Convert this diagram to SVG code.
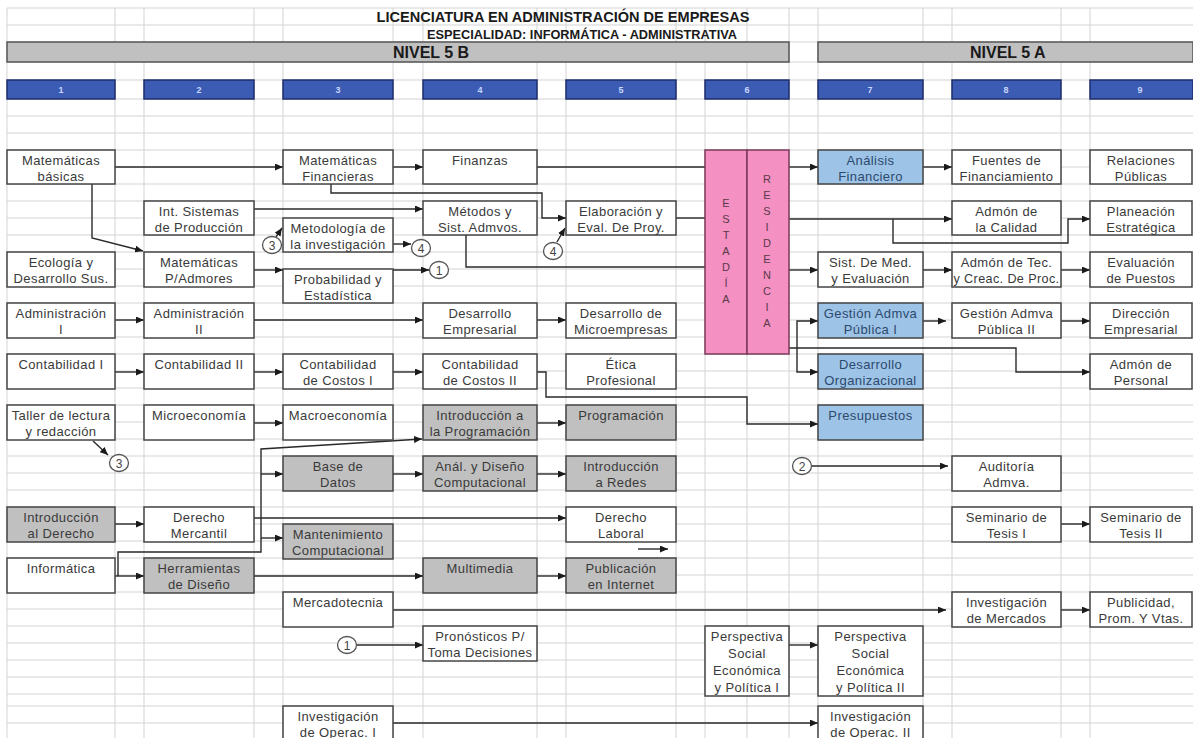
<svg xmlns="http://www.w3.org/2000/svg" width="1193" height="738" viewBox="0 0 1193 738">
<style>
.grid{stroke:#d3d3d3;stroke-width:1;fill:none}
.bar{fill:#c0c0c0;stroke:#555;stroke-width:1.5}
.hdr{fill:#3c5cb4;stroke:#1c2c6c;stroke-width:1.5}
.hn{font-family:"Liberation Sans",Arial,sans-serif;font-size:9px;font-weight:bold;fill:#c8d6ff;text-anchor:middle}
.ttl{font-family:"Liberation Sans",Arial,sans-serif;font-weight:bold;fill:#1a1a1a}
.w{fill:#fff;stroke:#444;stroke-width:1.5}
.g{fill:#c0c0c0;stroke:#444;stroke-width:1.5}
.b{fill:#9dc3e6;stroke:#444;stroke-width:1.5}
.p{fill:#f490c2;stroke:#7a3a5a;stroke-width:1.5}
.t{font-family:"Liberation Sans",Arial,sans-serif;font-size:13px;letter-spacing:0.4px;fill:#3a3a3a;text-anchor:middle}
.tb{font-family:"Liberation Sans",Arial,sans-serif;font-size:13px;letter-spacing:0.4px;fill:#2d4a6e;text-anchor:middle}
.v{font-family:"Liberation Sans",Arial,sans-serif;font-size:11px;fill:#5a3a4a;text-anchor:middle}
.c{stroke:#2a2a2a;stroke-width:1.4;fill:none}
.a{marker-end:url(#ah)}
.cir{fill:#fff;stroke:#555;stroke-width:1.3}
.ct{font-family:"Liberation Sans",Arial,sans-serif;font-size:12px;fill:#444;text-anchor:middle}
</style>
<defs>
<marker id="ah" markerWidth="8" markerHeight="7" refX="8" refY="3.5" orient="auto" markerUnits="userSpaceOnUse">
<path d="M0,0 L8,3.5 L0,7 z" fill="#1a1a1a"/>
</marker>
</defs>
<rect x="0" y="0" width="1193" height="738" fill="#fff"/>
<path class="grid" d="M7,8V738M115,8V738M144,8V738M254,8V738M283,8V738M393,8V738M423,8V738M537,8V738M566,8V738M676,8V738M705,8V738M747,8V738M789,8V738M818,8V738M923,8V738M952,8V738M1061,8V738M1090,8V738
M7,8H1193M7,25H1193M7,42H1193M7,62H1193M7,80H1193M7,99H1193M7,116H1193M7,133H1193
M7,150H1193M7,167H1193M7,184H1193M7,201H1193M7,218H1193M7,235H1193M7,252H1193M7,269H1193M7,286H1193M7,303H1193M7,320H1193M7,337H1193M7,354H1193M7,371H1193M7,388H1193M7,405H1193M7,422H1193M7,439H1193M7,456H1193M7,473H1193M7,490H1193M7,507H1193M7,524H1193M7,541H1193M7,558H1193M7,575H1193M7,592H1193M7,609H1193M7,626H1193M7,643H1193M7,660H1193M7,677H1193M7,694H1193M7,706H1193M7,723H1193"/>
<g id="title">
<text class="ttl" x="563" y="22" font-size="14" text-anchor="middle" textLength="373" lengthAdjust="spacingAndGlyphs">LICENCIATURA EN ADMINISTRACIÓN DE EMPRESAS</text>
<text class="ttl" x="582" y="38.5" font-size="12" text-anchor="middle" textLength="310" lengthAdjust="spacingAndGlyphs">ESPECIALIDAD: INFORMÁTICA - ADMINISTRATIVA</text>
</g>
<g id="level-5b">
<rect class="bar" x="7" y="42" width="782" height="20"/>
<text class="ttl" x="393" y="58" font-size="16">NIVEL 5 B</text>
</g>
<g id="level-5a">
<rect class="bar" x="818" y="42" width="375" height="20"/>
<text class="ttl" x="970" y="58" font-size="16">NIVEL 5 A</text>
</g>
<g id="col-headers">
<rect class="hdr" x="7" y="80" width="108" height="19"/><text class="hn" x="61" y="93">1</text>
<rect class="hdr" x="144" y="80" width="110" height="19"/><text class="hn" x="199" y="93">2</text>
<rect class="hdr" x="283" y="80" width="110" height="19"/><text class="hn" x="338" y="93">3</text>
<rect class="hdr" x="423" y="80" width="114" height="19"/><text class="hn" x="480" y="93">4</text>
<rect class="hdr" x="566" y="80" width="110" height="19"/><text class="hn" x="621" y="93">5</text>
<rect class="hdr" x="705" y="80" width="84" height="19"/><text class="hn" x="747" y="93">6</text>
<rect class="hdr" x="818" y="80" width="105" height="19"/><text class="hn" x="870" y="93">7</text>
<rect class="hdr" x="952" y="80" width="109" height="19"/><text class="hn" x="1006" y="93">8</text>
<rect class="hdr" x="1090" y="80" width="103" height="19"/><text class="hn" x="1140" y="93">9</text>
</g>
<g id="connectors">
<path class="c a" d="M115,167H283"/>
<path class="c a" d="M92,184V238L143,251"/>
<path class="c a" d="M393,167H423"/>
<path class="c a" d="M331,184V193H542V218H566"/>
<path class="c" d="M537,167H705"/>
<path class="c a" d="M254,209H423"/>
<path class="c" d="M466,235V267H705"/>
<path class="c" d="M676,218H705"/>
<path class="c a" d="M789,167H818"/>
<path class="c a" d="M923,167H952"/>
<path class="c a" d="M789,219H952"/>
<path class="c a" d="M893,219V243H1068V219H1090"/>
<path class="c a" d="M789,270H818"/>
<path class="c a" d="M923,270H952"/>
<path class="c a" d="M1061,270H1090"/>
<path class="c a" d="M789,348H1016V372H1090"/>
<path class="c a" d="M797,348V321H818"/>
<path class="c a" d="M797,348V372H818"/>
<path class="c a" d="M923,321H946"/>
<path class="c a" d="M1061,321H1090"/>
<path class="c a" d="M537,372H546V397H747V424H818"/>
<path class="c a" d="M393,610H946"/>
<path class="c a" d="M1061,610H1090"/>
<path class="c a" d="M1061,524H1090"/>
<path class="c a" d="M789,645H818"/>
<path class="c a" d="M393,723H818"/>
<path class="c a" d="M115,320H144"/>
<path class="c a" d="M254,320H423"/>
<path class="c a" d="M537,320H566"/>
<path class="c a" d="M115,372H144"/>
<path class="c a" d="M254,372H283"/>
<path class="c a" d="M393,372H423"/>
<path class="c a" d="M254,423H283"/>
<path class="c a" d="M537,423H566"/>
<path class="c a" d="M393,474H423"/>
<path class="c a" d="M537,474H566"/>
<path class="c a" d="M254,270H283"/>
<path class="c a" d="M393,270H429"/>
<path class="c a" d="M393,244H411"/>
<path class="c a" d="M115,524H144"/>
<path class="c a" d="M254,518H566"/>
<path class="c a" d="M115,576H144"/>
<path class="c a" d="M118,576V552H261V449L422,439"/>
<path class="c a" d="M261,474H283"/>
<path class="c a" d="M261,538H283"/>
<path class="c a" d="M254,576H423"/>
<path class="c a" d="M537,576H566"/>
<path class="c a" d="M357,645H423"/>
<path class="c a" d="M812,466H948"/>
<path class="c a" d="M93,441L108,455"/>
<path class="c a" d="M276,237L282,228"/>
<path class="c a" d="M557,242L565,228"/>
<path class="c a" d="M638,549H668"/>
</g>
<g id="markers">
<g id="ref-3a"><ellipse class="cir" cx="272" cy="245" rx="9.5" ry="8.5"/><text class="ct" x="272" y="249.5">3</text></g>
<g id="ref-4a"><ellipse class="cir" cx="421" cy="248" rx="9.5" ry="8.5"/><text class="ct" x="421" y="252.5">4</text></g>
<g id="ref-1a"><ellipse class="cir" cx="439" cy="270" rx="9.5" ry="8.5"/><text class="ct" x="439" y="274.5">1</text></g>
<g id="ref-4b"><ellipse class="cir" cx="553" cy="251" rx="9.5" ry="8.5"/><text class="ct" x="553" y="255.5">4</text></g>
<g id="ref-3b"><ellipse class="cir" cx="119" cy="463" rx="9.5" ry="8.5"/><text class="ct" x="119" y="467.5">3</text></g>
<g id="ref-1b"><ellipse class="cir" cx="347" cy="645" rx="9.5" ry="8.5"/><text class="ct" x="347" y="649.5">1</text></g>
<g id="ref-2"><ellipse class="cir" cx="802" cy="466" rx="9.5" ry="8.5"/><text class="ct" x="802" y="470.5">2</text></g>
</g>
<g id="n-matematicas-basicas"><rect class="w" x="7" y="150" width="108" height="34"/><text class="t" x="61" y="164.5">Matemáticas</text><text class="t" x="61" y="181">básicas</text></g>
<g id="n-ecologia"><rect class="w" x="7" y="252" width="108" height="35"/><text class="t" x="61" y="266.5">Ecología y</text><text class="t" x="61" y="283">Desarrollo Sus.</text></g>
<g id="n-administracion-1"><rect class="w" x="7" y="303" width="108" height="35"/><text class="t" x="61" y="317.5">Administración</text><text class="t" x="61" y="334">I</text></g>
<g id="n-contabilidad-1"><rect class="w" x="7" y="354" width="108" height="35"/><text class="t" x="61" y="368.5">Contabilidad I</text></g>
<g id="n-taller"><rect class="w" x="7" y="405" width="108" height="35"/><text class="t" x="61" y="419.5">Taller de lectura</text><text class="t" x="61" y="436">y redacción</text></g>
<g id="n-intro-derecho"><rect class="g" x="7" y="507" width="108" height="35"/><text class="t" x="61" y="521.5">Introducción</text><text class="t" x="61" y="538">al Derecho</text></g>
<g id="n-informatica"><rect class="w" x="7" y="558" width="108" height="35"/><text class="t" x="61" y="572.5">Informática</text></g>
<g id="n-int-sistemas"><rect class="w" x="144" y="201" width="110" height="34"/><text class="t" x="199" y="215.5">Int. Sistemas</text><text class="t" x="199" y="232">de Producción</text></g>
<g id="n-mat-padmores"><rect class="w" x="144" y="252" width="110" height="35"/><text class="t" x="199" y="266.5">Matemáticas</text><text class="t" x="199" y="283">P/Admores</text></g>
<g id="n-administracion-2"><rect class="w" x="144" y="303" width="110" height="35"/><text class="t" x="199" y="317.5">Administración</text><text class="t" x="199" y="334">II</text></g>
<g id="n-contabilidad-2"><rect class="w" x="144" y="354" width="110" height="35"/><text class="t" x="199" y="368.5">Contabilidad II</text></g>
<g id="n-microeconomia"><rect class="w" x="144" y="405" width="110" height="35"/><text class="t" x="199" y="419.5">Microeconomía</text></g>
<g id="n-derecho-mercantil"><rect class="w" x="144" y="507" width="110" height="35"/><text class="t" x="199" y="521.5">Derecho</text><text class="t" x="199" y="538">Mercantil</text></g>
<g id="n-herramientas"><rect class="g" x="144" y="558" width="110" height="35"/><text class="t" x="199" y="572.5">Herramientas</text><text class="t" x="199" y="589">de Diseño</text></g>
<g id="n-mat-financieras"><rect class="w" x="283" y="150" width="110" height="34"/><text class="t" x="338" y="164.5">Matemáticas</text><text class="t" x="338" y="181">Financieras</text></g>
<g id="n-metodologia"><rect class="w" x="283" y="218" width="110" height="34"/><text class="t" x="338" y="232.5">Metodología de</text><text class="t" x="338" y="249">la investigación</text></g>
<g id="n-probabilidad"><rect class="w" x="283" y="269" width="110" height="34"/><text class="t" x="338" y="283.5">Probabilidad y</text><text class="t" x="338" y="300">Estadística</text></g>
<g id="n-costos-1"><rect class="w" x="283" y="354" width="110" height="35"/><text class="t" x="338" y="368.5">Contabilidad</text><text class="t" x="338" y="385">de Costos I</text></g>
<g id="n-macroeconomia"><rect class="w" x="283" y="405" width="110" height="35"/><text class="t" x="338" y="419.5">Macroeconomía</text></g>
<g id="n-base-datos"><rect class="g" x="283" y="456" width="110" height="35"/><text class="t" x="338" y="470.5">Base de</text><text class="t" x="338" y="487">Datos</text></g>
<g id="n-mantenimiento"><rect class="g" x="283" y="524" width="110" height="35"/><text class="t" x="338" y="538.5">Mantenimiento</text><text class="t" x="338" y="555">Computacional</text></g>
<g id="n-mercadotecnia"><rect class="w" x="283" y="592" width="110" height="35"/><text class="t" x="338" y="606.5">Mercadotecnia</text></g>
<g id="n-inv-operac-1"><rect class="w" x="283" y="706" width="110" height="35"/><text class="t" x="338" y="720.5">Investigación</text><text class="t" x="338" y="737">de Operac. I</text></g>
<g id="n-finanzas"><rect class="w" x="423" y="150" width="114" height="34"/><text class="t" x="480" y="164.5">Finanzas</text></g>
<g id="n-metodos"><rect class="w" x="423" y="201" width="114" height="34"/><text class="t" x="480" y="215.5">Métodos y</text><text class="t" x="480" y="232">Sist. Admvos.</text></g>
<g id="n-desarrollo-empresarial"><rect class="w" x="423" y="303" width="114" height="35"/><text class="t" x="480" y="317.5">Desarrollo</text><text class="t" x="480" y="334">Empresarial</text></g>
<g id="n-costos-2"><rect class="w" x="423" y="354" width="114" height="35"/><text class="t" x="480" y="368.5">Contabilidad</text><text class="t" x="480" y="385">de Costos II</text></g>
<g id="n-intro-programacion"><rect class="g" x="423" y="405" width="114" height="35"/><text class="t" x="480" y="419.5">Introducción a</text><text class="t" x="480" y="436">la Programación</text></g>
<g id="n-analisis-diseno"><rect class="g" x="423" y="456" width="114" height="35"/><text class="t" x="480" y="470.5">Anál. y Diseño</text><text class="t" x="480" y="487">Computacional</text></g>
<g id="n-multimedia"><rect class="g" x="423" y="558" width="114" height="35"/><text class="t" x="480" y="572.5">Multimedia</text></g>
<g id="n-pronosticos"><rect class="w" x="423" y="626" width="114" height="35"/><text class="t" x="480" y="640.5">Pronósticos P/</text><text class="t" x="480" y="657">Toma Decisiones</text></g>
<g id="n-elaboracion"><rect class="w" x="566" y="201" width="110" height="34"/><text class="t" x="621" y="215.5">Elaboración y</text><text class="t" x="621" y="232">Eval. De Proy.</text></g>
<g id="n-desarrollo-micro"><rect class="w" x="566" y="303" width="110" height="35"/><text class="t" x="621" y="317.5">Desarrollo de</text><text class="t" x="621" y="334">Microempresas</text></g>
<g id="n-etica"><rect class="w" x="566" y="354" width="110" height="35"/><text class="t" x="621" y="368.5">Ética</text><text class="t" x="621" y="385">Profesional</text></g>
<g id="n-programacion"><rect class="g" x="566" y="405" width="110" height="35"/><text class="t" x="621" y="419.5">Programación</text></g>
<g id="n-intro-redes"><rect class="g" x="566" y="456" width="110" height="35"/><text class="t" x="621" y="470.5">Introducción</text><text class="t" x="621" y="487">a Redes</text></g>
<g id="n-derecho-laboral"><rect class="w" x="566" y="507" width="110" height="35"/><text class="t" x="621" y="521.5">Derecho</text><text class="t" x="621" y="538">Laboral</text></g>
<g id="n-publicacion"><rect class="g" x="566" y="558" width="110" height="35"/><text class="t" x="621" y="572.5">Publicación</text><text class="t" x="621" y="589">en Internet</text></g>
<g id="n-estadia"><rect class="p" x="705" y="150" width="42" height="204"/>
<text class="v" x="726" y="207">E</text><text class="v" x="726" y="223">S</text><text class="v" x="726" y="239">T</text><text class="v" x="726" y="255">A</text><text class="v" x="726" y="271">D</text><text class="v" x="726" y="287">Í</text><text class="v" x="726" y="303">A</text></g>
<g id="n-residencia"><rect class="p" x="747" y="150" width="42" height="204"/>
<text class="v" x="767" y="183">R</text><text class="v" x="767" y="199">E</text><text class="v" x="767" y="215">S</text><text class="v" x="767" y="231">I</text><text class="v" x="767" y="247">D</text><text class="v" x="767" y="263">E</text><text class="v" x="767" y="279">N</text><text class="v" x="767" y="295">C</text><text class="v" x="767" y="311">I</text><text class="v" x="767" y="327">A</text></g>
<g id="n-perspectiva-1"><rect class="w" x="705" y="626" width="84" height="70"/><text class="t" x="747" y="641">Perspectiva</text><text class="t" x="747" y="658">Social</text><text class="t" x="747" y="675">Económica</text><text class="t" x="747" y="692">y Política I</text></g>
<g id="n-analisis-financiero"><rect class="b" x="818" y="150" width="105" height="34"/><text class="tb" x="870.5" y="164.5">Análisis</text><text class="tb" x="870.5" y="181">Financiero</text></g>
<g id="n-sist-med"><rect class="w" x="818" y="252" width="105" height="35"/><text class="t" x="870.5" y="266.5">Sist. De Med.</text><text class="t" x="870.5" y="283">y Evaluación</text></g>
<g id="n-gestion-1"><rect class="b" x="818" y="303" width="105" height="35"/><text class="tb" x="870.5" y="317.5">Gestión Admva</text><text class="tb" x="870.5" y="334">Pública I</text></g>
<g id="n-desarrollo-org"><rect class="b" x="818" y="354" width="105" height="35"/><text class="tb" x="870.5" y="368.5">Desarrollo</text><text class="tb" x="870.5" y="385">Organizacional</text></g>
<g id="n-presupuestos"><rect class="b" x="818" y="405" width="105" height="35"/><text class="tb" x="870.5" y="419.5">Presupuestos</text></g>
<g id="n-perspectiva-2"><rect class="w" x="818" y="626" width="105" height="70"/><text class="t" x="870.5" y="641">Perspectiva</text><text class="t" x="870.5" y="658">Social</text><text class="t" x="870.5" y="675">Económica</text><text class="t" x="870.5" y="692">y Política II</text></g>
<g id="n-inv-operac-2"><rect class="w" x="818" y="706" width="105" height="35"/><text class="t" x="870.5" y="720.5">Investigación</text><text class="t" x="870.5" y="737">de Operac. II</text></g>
<g id="n-fuentes"><rect class="w" x="952" y="150" width="109" height="34"/><text class="t" x="1006.5" y="164.5">Fuentes de</text><text class="t" x="1006.5" y="181">Financiamiento</text></g>
<g id="n-admon-calidad"><rect class="w" x="952" y="201" width="109" height="34"/><text class="t" x="1006.5" y="215.5">Admón de</text><text class="t" x="1006.5" y="232">la Calidad</text></g>
<g id="n-admon-tec"><rect class="w" x="952" y="252" width="109" height="35"/><text class="t" x="1006.5" y="266.5">Admón de Tec.</text><text class="t" x="1006.5" y="283" textLength="106" lengthAdjust="spacingAndGlyphs">y Creac. De Proc.</text></g>
<g id="n-gestion-2"><rect class="w" x="952" y="303" width="109" height="35"/><text class="t" x="1006.5" y="317.5">Gestión Admva</text><text class="t" x="1006.5" y="334">Pública II</text></g>
<g id="n-auditoria"><rect class="w" x="952" y="456" width="109" height="35"/><text class="t" x="1006.5" y="470.5">Auditoría</text><text class="t" x="1006.5" y="487">Admva.</text></g>
<g id="n-seminario-1"><rect class="w" x="952" y="507" width="109" height="35"/><text class="t" x="1006.5" y="521.5">Seminario de</text><text class="t" x="1006.5" y="538">Tesis I</text></g>
<g id="n-inv-mercados"><rect class="w" x="952" y="592" width="109" height="35"/><text class="t" x="1006.5" y="606.5">Investigación</text><text class="t" x="1006.5" y="623">de Mercados</text></g>
<g id="n-relaciones"><rect class="w" x="1090" y="150" width="102" height="34"/><text class="t" x="1141" y="164.5">Relaciones</text><text class="t" x="1141" y="181">Públicas</text></g>
<g id="n-planeacion"><rect class="w" x="1090" y="201" width="102" height="34"/><text class="t" x="1141" y="215.5">Planeación</text><text class="t" x="1141" y="232">Estratégica</text></g>
<g id="n-evaluacion"><rect class="w" x="1090" y="252" width="102" height="35"/><text class="t" x="1141" y="266.5">Evaluación</text><text class="t" x="1141" y="283">de Puestos</text></g>
<g id="n-direccion"><rect class="w" x="1090" y="303" width="102" height="35"/><text class="t" x="1141" y="317.5">Dirección</text><text class="t" x="1141" y="334">Empresarial</text></g>
<g id="n-admon-personal"><rect class="w" x="1090" y="354" width="102" height="35"/><text class="t" x="1141" y="368.5">Admón de</text><text class="t" x="1141" y="385">Personal</text></g>
<g id="n-seminario-2"><rect class="w" x="1090" y="507" width="102" height="35"/><text class="t" x="1141" y="521.5">Seminario de</text><text class="t" x="1141" y="538">Tesis II</text></g>
<g id="n-publicidad"><rect class="w" x="1090" y="592" width="102" height="35"/><text class="t" x="1141" y="606.5">Publicidad,</text><text class="t" x="1141" y="623">Prom. Y Vtas.</text></g>
</svg>
